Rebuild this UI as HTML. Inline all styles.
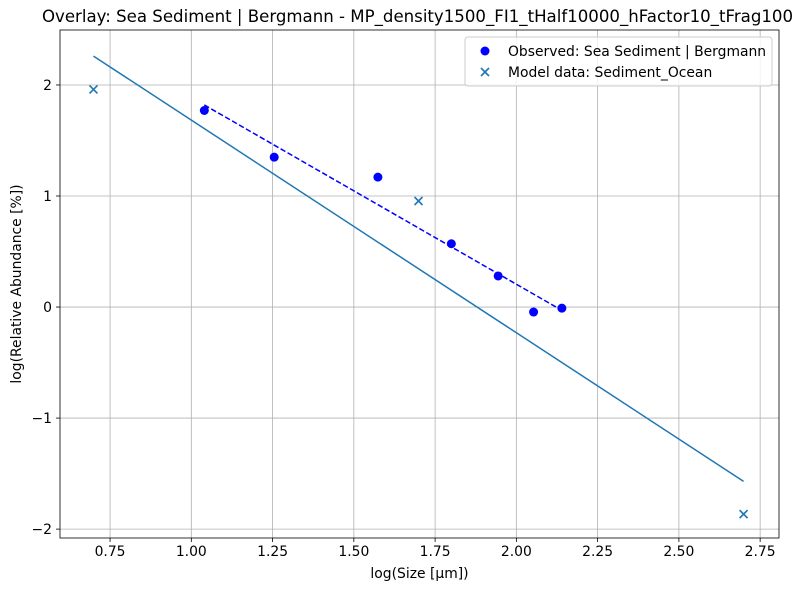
<!DOCTYPE html>
<html><head><meta charset="utf-8"><style>
body{margin:0;background:#fff;font-family:"Liberation Sans","DejaVu Sans",sans-serif}
svg text{font-family:"DejaVu Sans","Liberation Sans",sans-serif}
</style></head><body>
<svg id="chart" width="804" height="590" xmlns="http://www.w3.org/2000/svg"></svg>
<script>
const xTicks=[0.75,1.00,1.25,1.50,1.75,2.00,2.25,2.50,2.75];
const xTickLabels=["0.75","1.00","1.25","1.50","1.75","2.00","2.25","2.50","2.75"];
const yTicks=[-2,-1,0,1,2];
const yTickLabels=["−2","−1","0","1","2"];
const obsX=[1.04,1.255,1.574,1.80,1.944,2.053,2.14];
const obsY=[1.77,1.35,1.17,0.57,0.28,-0.045,-0.01];
const modelX=[0.699,1.699,2.699];
const modelY=[1.96,0.955,-1.865];
const fitX=[0.699,2.699];
const fitY=[2.26,-1.57];
const obsFitX=[1.04,2.14];
const obsFitY=[1.82,-0.03];

const L=60,R=779,T=30,B=538;
const xMin=0.596,xMax=2.808,yMin=-2.08,yMax=2.495;
const sx=v=>L+(v-xMin)/(xMax-xMin)*(R-L);
const sy=v=>B-(v-yMin)/(yMax-yMin)*(B-T);
const svg=document.getElementById('chart');
const NS="http://www.w3.org/2000/svg";
const FS=13.9;
function mk(tag,attrs,parent){const e=document.createElementNS(NS,tag);for(const k in attrs)e.setAttribute(k,attrs[k]);(parent||svg).appendChild(e);return e;}

const grid=mk('g',{});


xTicks.forEach((v,i)=>{
  mk('line',{x1:sx(v),x2:sx(v),y1:T,y2:B,stroke:'#b0b0b0','stroke-width':0.8},grid);
  mk('line',{x1:sx(v),x2:sx(v),y1:B,y2:B+4,stroke:'#000','stroke-width':0.8});
  const t=mk('text',{x:sx(v),y:B+18,'text-anchor':'middle','font-size':FS});
  
  
  t.textContent=xTickLabels[i];
});
yTicks.forEach((v,i)=>{
  mk('line',{x1:L,x2:R,y1:sy(v),y2:sy(v),stroke:'#b0b0b0','stroke-width':0.8},grid);
  mk('line',{x1:L-4,x2:L,y1:sy(v),y2:sy(v),stroke:'#000','stroke-width':0.8});
  const t=mk('text',{x:L-8,y:sy(v)+5,'text-anchor':'end','font-size':FS});
  
  
  t.textContent=yTickLabels[i];
});

const fit=mk('line',{x1:sx(fitX[0]),y1:sy(fitY[0]),x2:sx(fitX[1]),y2:sy(fitY[1]),stroke:'#1f77b4','stroke-width':1.5});


const ofit=mk('line',{x1:sx(obsFitX[0]),y1:sy(obsFitY[0]),x2:sx(obsFitX[1]),y2:sy(obsFitY[1]),stroke:'#0000ff','stroke-width':1.5,'stroke-dasharray':'5.5,2.5'});



obsX.forEach((v,i)=>{
  const c=mk('circle',{cx:sx(v),cy:sy(obsY[i]),r:4.5,fill:'#0000ff'});
  
  
});
modelX.forEach((v,i)=>{
  const x=sx(v),y=sy(modelY[i]);
  const g=mk('path',{d:`M${x-4},${y-4}L${x+4},${y+4}M${x-4},${y+4}L${x+4},${y-4}`,stroke:'#1f77b4','stroke-width':1.6});
  
  
});

const frame=mk('rect',{x:L,y:T,width:R-L,height:B-T,fill:'none',stroke:'#000','stroke-width':0.8});



const title=mk('text',{x:(L+R)/2-2,y:22,'text-anchor':'middle','font-size':16.6});


title.textContent='Overlay: Sea Sediment | Bergmann - MP_density1500_FI1_tHalf10000_hFactor10_tFrag100';
const xt=mk('text',{x:(L+R)/2,y:578,'text-anchor':'middle','font-size':FS});


xt.textContent='log(Size [µm])';
const yt=mk('text',{x:21,y:(T+B)/2,'text-anchor':'middle','font-size':FS,transform:`rotate(-90 21 ${(T+B)/2})`});


yt.textContent='log(Relative Abundance [%])';

const lg=mk('g',{});


mk('rect',{x:465,y:37,width:307,height:49,rx:3,fill:'#fff','fill-opacity':0.8,stroke:'#ccc'},lg);
mk('circle',{cx:485,cy:51,r:4.5,fill:'#0000ff'},lg);
const l1=mk('text',{x:508,y:56,'font-size':FS},lg);


l1.textContent='Observed: Sea Sediment | Bergmann';
mk('path',{d:'M481,68L489,76M481,76L489,68',stroke:'#1f77b4','stroke-width':1.6},lg);
const l2=mk('text',{x:508,y:77,'font-size':FS},lg);


l2.textContent='Model data: Sediment_Ocean';
</script>
</body></html>
